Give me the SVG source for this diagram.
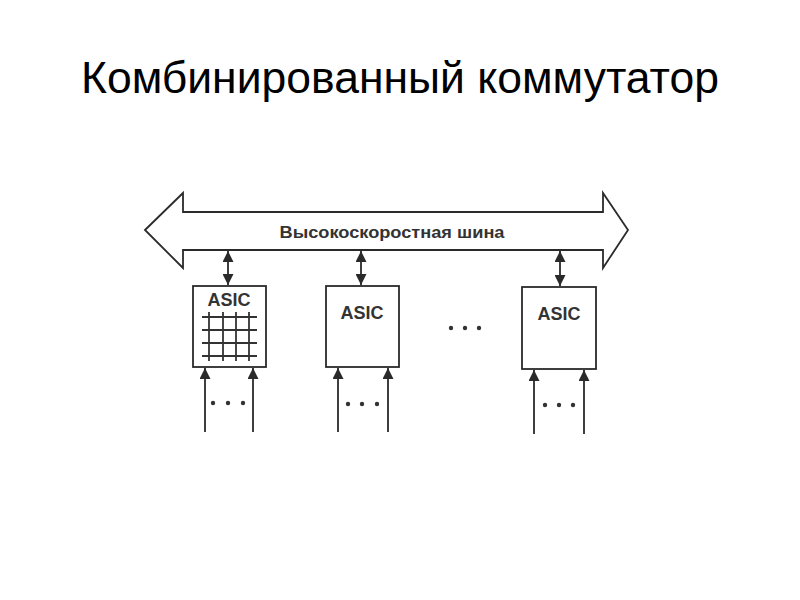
<svg xmlns="http://www.w3.org/2000/svg" width="800" height="600" viewBox="0 0 800 600">
<style>
.t{font-family:"Liberation Sans",Arial,sans-serif;fill:#000}
.ln{stroke:#2a2a2a;stroke-width:1.8;fill:none}
.box{stroke:#2a2a2a;stroke-width:1.8;fill:#fff}
.lab{font-family:"Liberation Sans",Arial,sans-serif;font-weight:bold;fill:#333;text-anchor:middle}
.dot{fill:#333}
.grid{stroke:#333;stroke-width:1.8}
</style>
<defs>
<marker id="ah2" viewBox="0 0 10 10" refX="10" refY="5" markerWidth="11" markerHeight="11" orient="auto-start-reverse" markerUnits="userSpaceOnUse">
<path d="M0,0 L10,5 L0,10 z" fill="#2a2a2a"/>
</marker>
</defs>
<rect width="800" height="600" fill="#fff"/>
<text class="t" x="400" y="93" font-size="44.5" text-anchor="middle">Комбинированный коммутатор</text>

<g id="bus">
<path class="ln" d="M145,230 L183,193 L183,212 L603,212 L603,193 L628,230 L603,268 L603,250 L183,250 L183,268 Z" fill="#fff"/>
<text class="lab" x="392" y="238" font-size="16.5" textLength="225" lengthAdjust="spacingAndGlyphs">Высокоскоростная шина</text>
</g>

<g id="asic1">
<rect class="box" x="193" y="286" width="73" height="81"/>
<text class="lab" x="229" y="306" font-size="18">ASIC</text>
<g class="grid">
<line x1="202" y1="317" x2="257" y2="317"/>
<line x1="202" y1="330" x2="257" y2="330"/>
<line x1="202" y1="343" x2="257" y2="343"/>
<line x1="202" y1="356" x2="257" y2="356"/>
<line x1="209" y1="312" x2="209" y2="361"/>
<line x1="223" y1="312" x2="223" y2="361"/>
<line x1="236" y1="312" x2="236" y2="361"/>
<line x1="249" y1="312" x2="249" y2="361"/>
</g>
</g>

<g id="asic2">
<rect class="box" x="326" y="286" width="73" height="81"/>
<text class="lab" x="362" y="319" font-size="18">ASIC</text>
</g>

<g id="asic3">
<rect class="box" x="522" y="287" width="74" height="82"/>
<text class="lab" x="559" y="320" font-size="18">ASIC</text>
</g>

<g id="dots">
<circle class="dot" cx="451" cy="328" r="2.2"/>
<circle class="dot" cx="465" cy="328" r="2.2"/>
<circle class="dot" cx="479" cy="328" r="2.2"/>
<circle class="dot" cx="213" cy="403" r="2.2"/>
<circle class="dot" cx="228" cy="403" r="2.2"/>
<circle class="dot" cx="243" cy="403" r="2.2"/>
<circle class="dot" cx="348" cy="404" r="2.2"/>
<circle class="dot" cx="362" cy="404" r="2.2"/>
<circle class="dot" cx="377" cy="404" r="2.2"/>
<circle class="dot" cx="545" cy="405" r="2.2"/>
<circle class="dot" cx="559" cy="405" r="2.2"/>
<circle class="dot" cx="573" cy="405" r="2.2"/>
</g>

<g id="connectors">
<line class="ln" x1="228" y1="251" x2="228" y2="285" marker-start="url(#ah2)" marker-end="url(#ah2)"/>
<line class="ln" x1="361" y1="251" x2="361" y2="285" marker-start="url(#ah2)" marker-end="url(#ah2)"/>
<line class="ln" x1="560" y1="251" x2="560" y2="286" marker-start="url(#ah2)" marker-end="url(#ah2)"/>
<line class="ln" x1="205" y1="432" x2="205" y2="368" marker-end="url(#ah2)"/>
<line class="ln" x1="253" y1="432" x2="253" y2="368" marker-end="url(#ah2)"/>
<line class="ln" x1="338" y1="432" x2="338" y2="368" marker-end="url(#ah2)"/>
<line class="ln" x1="388" y1="432" x2="388" y2="368" marker-end="url(#ah2)"/>
<line class="ln" x1="534" y1="434" x2="534" y2="370" marker-end="url(#ah2)"/>
<line class="ln" x1="584" y1="434" x2="584" y2="370" marker-end="url(#ah2)"/>
</g>
</svg>
